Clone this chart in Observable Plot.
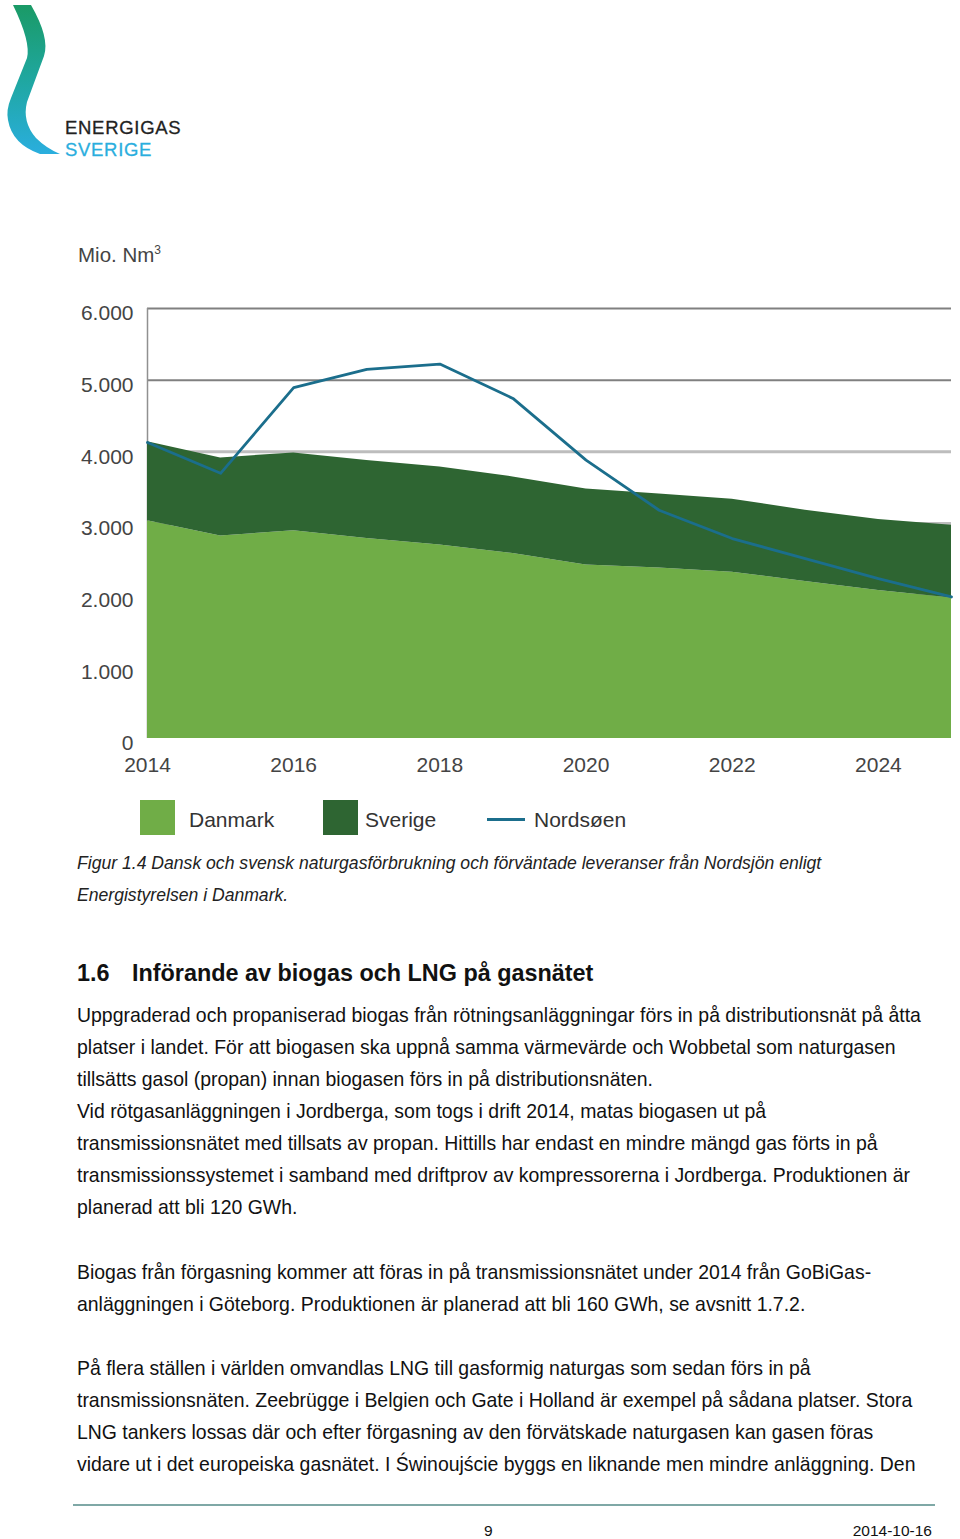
<!DOCTYPE html>
<html><head><meta charset="utf-8">
<script src="https://cdn.jsdelivr.net/npm/d3@7"></script>
<script src="https://cdn.jsdelivr.net/npm/@observablehq/plot@0.6"></script>
<style>
body{margin:0;background:#fff;font-family:"Liberation Sans",Arial,sans-serif;color:#111;}
#page{position:relative;width:960px;height:1539px;overflow:hidden;}
.abs{position:absolute;white-space:nowrap;}
.body{font-size:19.45px;left:77px;line-height:32px;}
.cap{font-style:italic;font-size:17.6px;left:77px;color:#222;line-height:24px;}
.leg{font-size:21px;color:#333;line-height:24px;}
.logo{font-size:18.5px;letter-spacing:0.7px;font-family:'Liberation Sans',sans-serif;-webkit-text-stroke:0.3px currentColor;}
</style></head>
<body><div id="page">
<svg class="abs" style="left:0;top:0" width="200" height="170">
<defs><linearGradient id="g" x1="0" y1="0" x2="0" y2="1"><stop offset="0" stop-color="#1a9a66"/><stop offset="0.5" stop-color="#1fa7a0"/><stop offset="1" stop-color="#2aaede"/></linearGradient></defs>
<path d="M13 5 L31 5 Q50 38 44 56 L27 102 Q22 122 36 138 Q46 148 60 154 L40 154 Q12 144 8 120 Q6 110 11 98 L27 58 Q31 42 13 5 Z" fill="url(#g)"/>
</svg>
<div class="abs logo" style="left:65px;top:117px;color:#222;">ENERGIGAS</div>
<div class="abs logo" style="left:65px;top:139px;color:#2aaede;">SVERIGE</div>

<div class="abs" style="left:78px;top:237px;font-size:20.5px;color:#444;line-height:26px">Mio. Nm<sup style="font-size:12px">3</sup></div>
<div id="chart" class="abs" style="left:0;top:290px"></div>

<div class="abs" style="left:140px;top:800px;width:35px;height:35px;background:#70ad47"></div>
<div class="abs leg" style="left:189px;top:808px">Danmark</div>
<div class="abs" style="left:323px;top:800px;width:35px;height:35px;background:#2e6532"></div>
<div class="abs leg" style="left:365px;top:808px">Sverige</div>
<div class="abs" style="left:487px;top:818px;width:38px;height:3px;background:#1b6e8c"></div>
<div class="abs leg" style="left:534px;top:808px">Nordsøen</div>

<div class="abs cap" style="top:851px">Figur 1.4 Dansk och svensk naturgasförbrukning och förväntade leveranser från Nordsjön enligt</div>
<div class="abs cap" style="top:883px">Energistyrelsen i Danmark.</div>

<div class="abs" style="left:77px;top:960px;font-size:23.4px;font-weight:bold">1.6</div>
<div class="abs" style="left:132px;top:960px;font-size:23.4px;font-weight:bold">Införande av biogas och LNG på gasnätet</div>

<div class="abs body" style="top:999px">Uppgraderad och propaniserad biogas från rötningsanläggningar förs in på distributionsnät på åtta</div>
<div class="abs body" style="top:1031px">platser i landet. För att biogasen ska uppnå samma värmevärde och Wobbetal som naturgasen</div>
<div class="abs body" style="top:1063px">tillsätts gasol (propan) innan biogasen förs in på distributionsnäten.</div>
<div class="abs body" style="top:1095px">Vid rötgasanläggningen i Jordberga, som togs i drift 2014, matas biogasen ut på</div>
<div class="abs body" style="top:1127px">transmissionsnätet med tillsats av propan. Hittills har endast en mindre mängd gas förts in på</div>
<div class="abs body" style="top:1159px">transmissionssystemet i samband med driftprov av kompressorerna i Jordberga. Produktionen är</div>
<div class="abs body" style="top:1191px">planerad att bli 120 GWh.</div>
<div class="abs body" style="top:1256px">Biogas från förgasning kommer att föras in på transmissionsnätet under 2014 från GoBiGas-</div>
<div class="abs body" style="top:1288px">anläggningen i Göteborg. Produktionen är planerad att bli 160 GWh, se avsnitt 1.7.2.</div>
<div class="abs body" style="top:1352px">På flera ställen i världen omvandlas LNG till gasformig naturgas som sedan förs in på</div>
<div class="abs body" style="top:1384px">transmissionsnäten. Zeebrügge i Belgien och Gate i Holland är exempel på sådana platser. Stora</div>
<div class="abs body" style="top:1416px">LNG tankers lossas där och efter förgasning av den förvätskade naturgasen kan gasen föras</div>
<div class="abs body" style="top:1448px">vidare ut i det europeiska gasnätet. I Świnoujście byggs en liknande men mindre anläggning. Den</div>

<div class="abs" style="left:73px;top:1504px;width:862px;height:2px;background:#7fa8a6"></div>
<div class="abs" style="left:484px;top:1522px;font-size:15.5px">9</div>
<div class="abs" style="right:28px;top:1522px;font-size:15.5px">2014-10-16</div>
</div>
<script>
const years = [2014,2015,2016,2017,2018,2019,2020,2021,2022,2023,2024,2025];
const danmark = [3040,2825,2900,2790,2700,2580,2420,2380,2320,2190,2065,1960];
const sverige = [1100,1090,1085,1090,1090,1070,1060,1030,1020,995,990,1015];
const nordsoen = [4130,3700,4895,5150,5225,4745,3885,3185,2790,2510,2230,1975];
const xTicks = [2014,2016,2018,2020,2022,2024];
const yTicks = [0,1000,2000,3000,4000,5000,6000];

const long = [];
years.forEach((y,i)=>{
  long.push({year:y, series:"Danmark", value:danmark[i]});
  long.push({year:y, series:"Sverige", value:sverige[i]});
});
const line = years.map((y,i)=>({year:y, value:nordsoen[i]}));
const fmt = d => d===0 ? "0" : d3.format(",")(d).replace(/,/g,".");

const chart = Plot.plot({
  width:960, height:500,
  marginLeft:147, marginRight:9, marginTop:18, marginBottom:52,
  style:{fontFamily:"'Liberation Sans',Arial,sans-serif", fontSize:"21px", color:"#444", background:"transparent"},
  x:{domain:[2014,2025], label:null},
  y:{domain:[0,6000], label:null},
  color:{domain:["Danmark","Sverige"], range:["#70ad47","#2e6532"]},
  marks:[
    Plot.ruleY([6000,5000], {stroke:"#808080", strokeWidth:2}),
    Plot.ruleY([4000,3000,2000,1000], {stroke:"#bdbdbd", strokeWidth:3}),
    Plot.ruleX([2014], {stroke:"#909090", strokeWidth:1.5}),
    Plot.areaY(long, {x:"year", y:"value", fill:"series", order:["Danmark","Sverige"]}),
    Plot.lineY(line, {x:"year", y:"value", stroke:"#1b6e8c", strokeWidth:2.8}),
    Plot.axisX({ticks:xTicks, tickFormat:d=>String(d), tickSize:0, tickPadding:19, fontSize:21}),
    Plot.axisY({ticks:yTicks, tickFormat:fmt, tickSize:0, tickPadding:14, dy:5, fontSize:21})
  ]
});
document.getElementById("chart").appendChild(chart);
</script>
</body></html>
